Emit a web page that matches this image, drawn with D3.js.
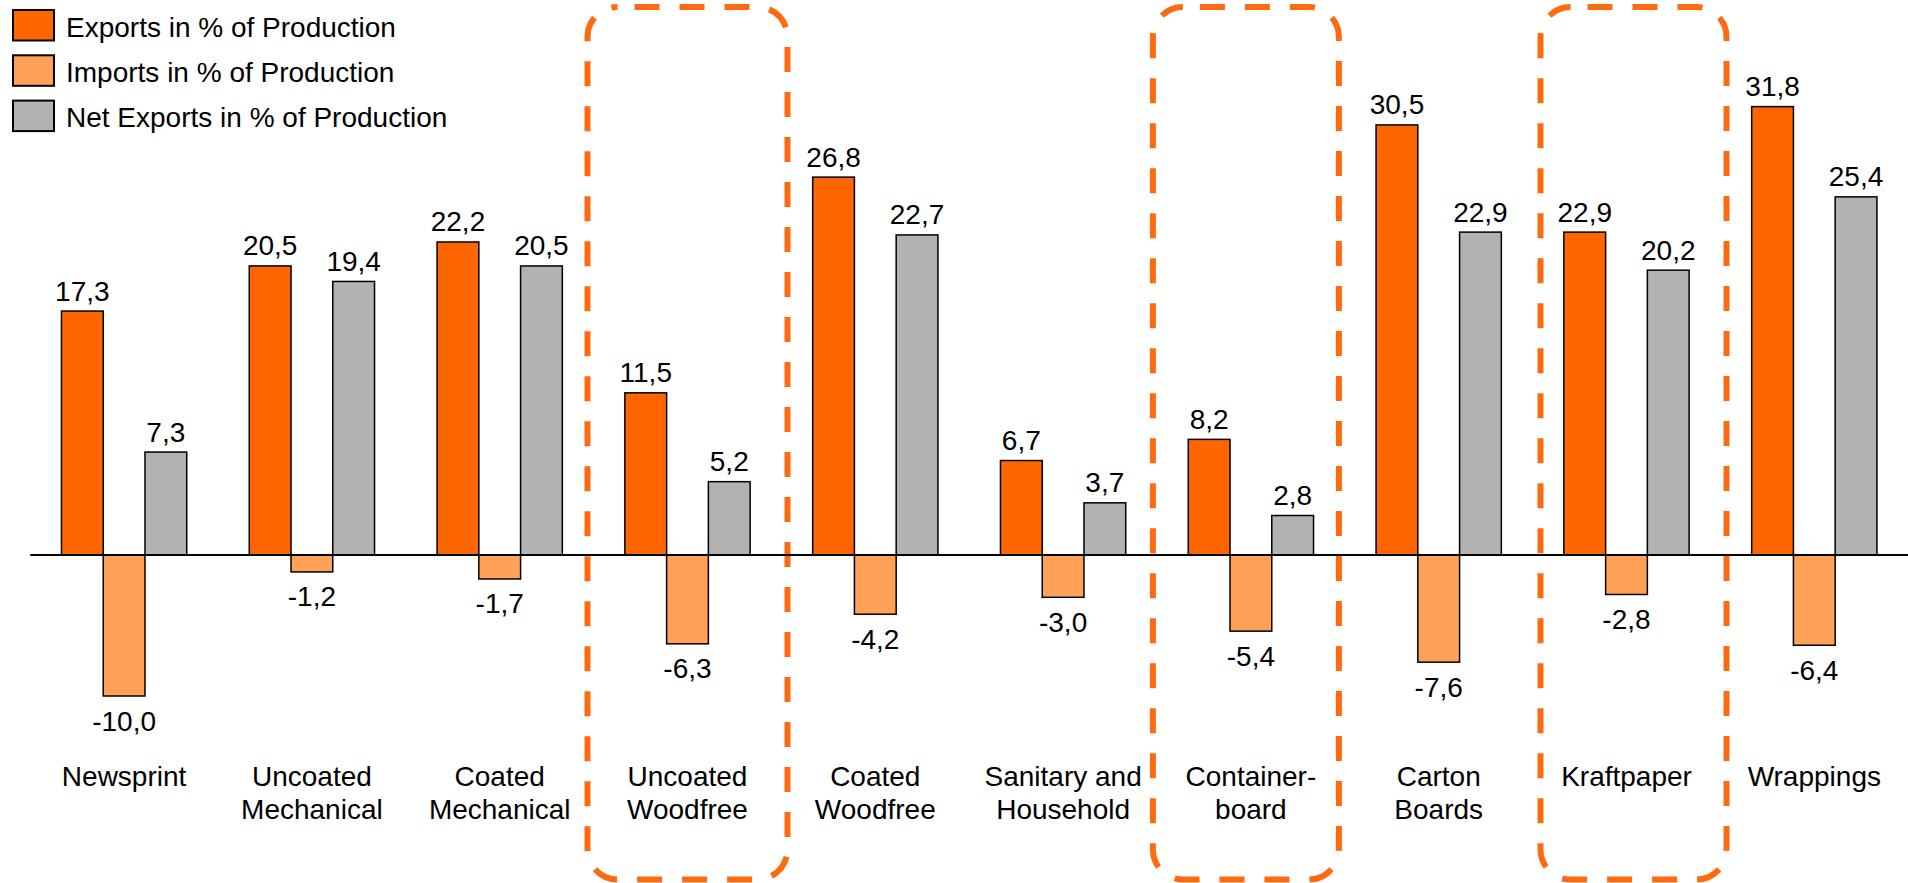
<!DOCTYPE html>
<html>
<head>
<meta charset="utf-8">
<script src="https://cdn.jsdelivr.net/npm/d3@7"></script>
<style>
  html, body { margin: 0; padding: 0; background: #fff; }
  svg { display: block; font-family: "Liberation Sans", Arial, sans-serif; }
</style>
</head>
<body>
<svg id="chart" width="1908" height="883"></svg>
<script>
// Paper grades (line breaks mark two-line axis labels)
const categories = [
  "Newsprint",
  "Uncoated\nMechanical",
  "Coated\nMechanical",
  "Uncoated\nWoodfree",
  "Coated\nWoodfree",
  "Sanitary and\nHousehold",
  "Container-\nboard",
  "Carton\nBoards",
  "Kraftpaper",
  "Wrappings"
];

// Shares of production, in %
const exportsPct    = [17.3, 20.5, 22.2, 11.5, 26.8, 6.7, 8.2, 30.5, 22.9, 31.8];
const importsPct    = [-10.0, -1.2, -1.7, -6.3, -4.2, -3.0, -5.4, -7.6, -2.8, -6.4];
const netExportsPct = [7.3, 19.4, 20.5, 5.2, 22.7, 3.7, 2.8, 22.9, 20.2, 25.4];

const seriesNames = [
  "Exports in % of Production",
  "Imports in % of Production",
  "Net Exports in % of Production"
];

// Grades singled out with a dashed frame
const highlighted = ["Uncoated\nWoodfree", "Container-\nboard", "Kraftpaper"];

// ---- layout & style ----
const W = 1908, H = 883;
const colors = ["#FF6600", "#FFA156", "#B2B2B2"];
const frameColor = "#FF6A10";
const fontSize = 28;
const zeroY = 555, pxPerUnit = 14.1;
const frameGeom = [
  { half: 100, shift: 0 },
  { half: 93,  shift: -5 },
  { half: 93,  shift: 7 }
];

const svg = d3.select("#chart");

const x = d3.scaleBand()
  .domain(categories)
  .range([30.2, 1908.2])
  .paddingInner(0.333)
  .paddingOuter(0.1665);

const xs = d3.scaleBand()
  .domain(d3.range(3))
  .range([0, x.bandwidth()]);

const y = d3.scaleLinear()
  .domain([-12, 35])
  .range([zeroY + 12 * pxPerUnit, zeroY - 35 * pxPerUnit]);

const series = [exportsPct, importsPct, netExportsPct];
const fmt = v => d3.format(".1f")(v).replace(".", ",").replace("−", "-");

// Dashed rounded frames
const frames = svg.append("g");
highlighted.forEach((cat, i) => {
  const cx = x(cat) + x.bandwidth() / 2 + frameGeom[i].shift;
  const hw = frameGeom[i].half;
  frames.append("rect")
    .attr("x", cx - hw).attr("y", 7)
    .attr("width", 2 * hw).attr("height", 872.5)
    .attr("rx", 30).attr("ry", 30)
    .attr("fill", "none")
    .attr("stroke", frameColor)
    .attr("stroke-width", 6)
    .attr("stroke-dasharray", "25,20")
    .attr("stroke-dashoffset", 28);
});

// Bars
const groups = svg.append("g").selectAll("g")
  .data(categories)
  .join("g")
  .attr("transform", d => `translate(${x(d)},0)`);

series.forEach((vals, s) => {
  groups.append("rect")
    .attr("x", xs(s))
    .attr("width", xs.bandwidth())
    .attr("y", (d, i) => y(Math.max(0, vals[i])))
    .attr("height", (d, i) => Math.abs(y(vals[i]) - y(0)))
    .attr("fill", colors[s])
    .attr("stroke", "#000")
    .attr("stroke-width", 1.5);

  groups.append("text")
    .attr("x", xs(s) + xs.bandwidth() / 2)
    .attr("y", (d, i) => vals[i] >= 0 ? y(vals[i]) - 10.5 : y(vals[i]) + 34.5)
    .attr("text-anchor", "middle")
    .attr("font-size", fontSize)
    .attr("fill", "#000")
    .text((d, i) => fmt(vals[i]));
});

// Zero line
svg.append("line")
  .attr("x1", x.range()[0]).attr("x2", W)
  .attr("y1", y(0)).attr("y2", y(0))
  .attr("stroke", "#000")
  .attr("stroke-width", 2);

// Category labels
const catLabels = svg.append("g").selectAll("text")
  .data(categories)
  .join("text")
  .attr("x", d => x(d) + x.bandwidth() / 2)
  .attr("y", 786)
  .attr("text-anchor", "middle")
  .attr("font-size", fontSize)
  .attr("fill", "#000");

catLabels.selectAll("tspan")
  .data(d => d.split("\n"))
  .join("tspan")
  .attr("x", function () { return d3.select(this.parentNode).attr("x"); })
  .attr("dy", (d, i) => i === 0 ? 0 : 33.3)
  .text(d => d);

// Legend
const legend = svg.append("g");
seriesNames.forEach((name, i) => {
  legend.append("rect")
    .attr("x", 13).attr("y", 10 + i * 45.3)
    .attr("width", 41).attr("height", 30.5)
    .attr("fill", colors[i])
    .attr("stroke", "#000")
    .attr("stroke-width", 2);
  legend.append("text")
    .attr("x", 66).attr("y", 36.7 + i * 45.3)
    .attr("font-size", fontSize)
    .attr("fill", "#000")
    .text(name);
});
</script>
</body>
</html>
